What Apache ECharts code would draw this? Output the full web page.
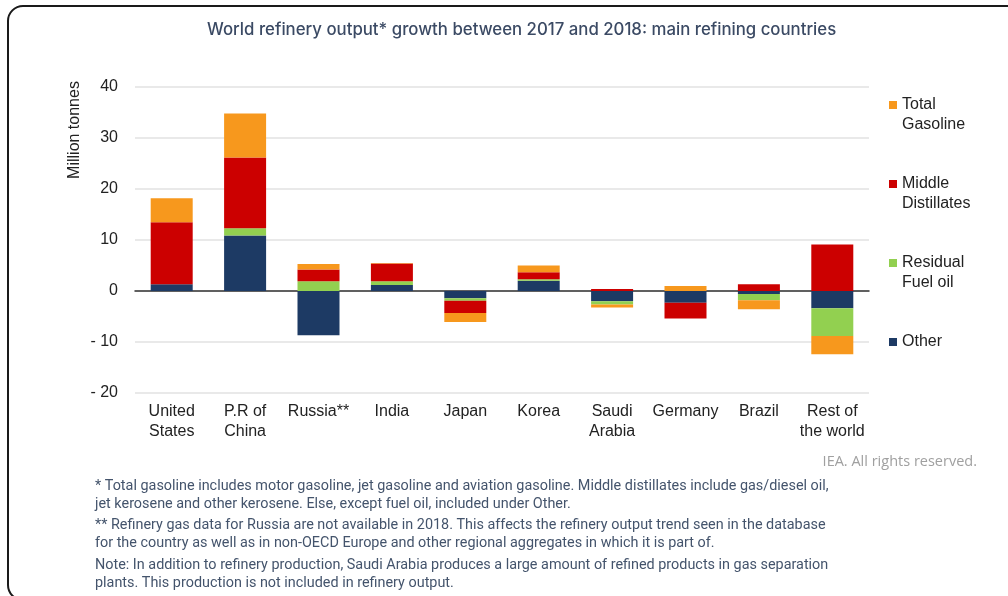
<!DOCTYPE html>
<html>
<head>
<meta charset="utf-8">
<script src="https://cdn.jsdelivr.net/npm/echarts@6/dist/echarts.min.js"></script>
<style>
  html, body { margin: 0; padding: 0; background: #fff; }
  #chart { width: 1008px; height: 596px; }
</style>
</head>
<body>
<div id="chart"></div>
<script>
var categories = ['United\nStates', 'P.R of\nChina', 'Russia**', 'India', 'Japan', 'Korea', 'Saudi\nArabia', 'Germany', 'Brazil', 'Rest of\nthe world'];
// million tonnes, 2018 vs 2017
var other    = [1.3, 10.9, -8.7, 1.2, -1.4, 2.0, -2.0, -2.3, -0.6, -3.4];
var residual = [0, 1.4, 1.9, 0.7, -0.5, 0.3, -0.65, 0, -1.2, -5.4];
var middle   = [12.2, 13.9, 2.3, 3.5, -2.4, 1.4, 0.4, -3.1, 1.3, 9.1];
var gasoline = [4.7, 8.6, 1.1, 0.1, -1.8, 1.3, -0.6, 1.0, -1.8, -3.6];

var footnotes = [
	'* Total gasoline includes motor gasoline, jet gasoline and aviation gasoline. Middle distillates include gas/diesel oil,',
	'jet kerosene and other kerosene. Else, except fuel oil, included under Other.',
	'** Refinery gas data for Russia are not available in 2018. This affects the refinery output trend seen in the database',
	'for the country as well as in non-OECD Europe and other regional aggregates in which it is part of.',
	'Note: In addition to refinery production, Saudi Arabia produces a large amount of refined products in gas separation',
	'plants. This production is not included in refinery output.'
];
var footY = [486, 504, 525, 543, 565, 583];

var chart = echarts.init(document.getElementById('chart'));

var labelFont = '"Liberation Sans", Arial, sans-serif';

function barSeries(name, data, color) {
	return {
		name: name,
		type: 'bar',
		stack: 'total',
		data: data,
		barWidth: 42,
		itemStyle: { color: color },
		emphasis: { disabled: true }
	};
}

var graphics = [{
	type: 'rect',
	shape: { x: 8, y: 6, width: 1020, height: 594, r: 15 },
	style: { fill: 'none', stroke: '#1a1a1a', lineWidth: 2 },
	silent: true
}, {
	type: 'text',
	x: 75, y: 130,
	rotation: Math.PI / 2,
	style: {
		text: 'Million tonnes',
		font: '16px ' + labelFont,
		fill: '#222',
		align: 'center',
		verticalAlign: 'middle'
	}
}, {
	type: 'text',
	x: 977, y: 462,
	style: {
		text: 'IEA. All rights reserved.',
		font: '14.5px "Open Sans", sans-serif',
		fill: '#a0a0a0',
		align: 'right',
		verticalAlign: 'middle'
	}
}];
footnotes.forEach(function(line, i) {
	graphics.push({
		type: 'text',
		x: 95, y: footY[i],
		style: {
			text: line,
			font: '14.4px Roboto, sans-serif',
			fill: '#44546c',
			verticalAlign: 'middle'
		}
	});
});

chart.setOption({
	animation: false,
	title: {
		text: 'World refinery output* growth between 2017 and 2018: main refining countries',
		left: 202,
		top: 16,
		textStyle: {
			fontFamily: 'Inter, sans-serif',
			fontSize: 16.8,
			fontWeight: 500,
			color: '#3b4a64'
		}
	},
	legend: {
		orient: 'vertical',
		left: 889,
		top: 75,
		padding: 0,
		itemWidth: 8,
		itemHeight: 8,
		itemGap: 19,
		icon: 'rect',
		selectedMode: false,
		// blank lines keep the marker level with the first line of text
		formatter: function(name) {
			return ' \n' + name + (name.indexOf('\n') < 0 ? '\n ' : '');
		},
		textStyle: {
			fontFamily: labelFont,
			fontSize: 16,
			lineHeight: 20,
			color: '#222'
		},
		data: ['Total\nGasoline', 'Middle\nDistillates', 'Residual\nFuel oil', 'Other']
	},
	grid: { left: 135, right: 139, top: 87, bottom: 203 },
	xAxis: [{
		type: 'category',
		data: categories,
		axisLine: { show: false, onZero: false },
		axisTick: { show: false },
		axisLabel: {
			interval: 0,
			margin: 9,
			fontFamily: labelFont,
			fontSize: 16,
			lineHeight: 20,
			color: '#222'
		}
	}, {
		type: 'category',
		data: categories,
		position: 'bottom',
		axisLine: { show: true, onZero: true, lineStyle: { color: '#333', width: 1.5 } },
		axisTick: { show: false },
		axisLabel: { show: false }
	}],
	yAxis: {
		type: 'value',
		min: -20,
		max: 40,
		interval: 10,
		axisLine: { show: false },
		axisTick: { show: false },
		splitLine: { lineStyle: { color: '#e2e2e2', width: 1.5 } },
		axisLabel: {
			margin: 17,
			fontFamily: labelFont,
			fontSize: 16,
			color: '#222',
			formatter: function(v) { return v < 0 ? '- ' + (-v) : String(v); }
		}
	},
	series: [
		barSeries('Other', other, '#1d3a64'),
		barSeries('Residual\nFuel oil', residual, '#92d050'),
		barSeries('Middle\nDistillates', middle, '#cc0000'),
		barSeries('Total\nGasoline', gasoline, '#f7981d')
	],
	graphic: graphics
});
</script>
</body>
</html>
